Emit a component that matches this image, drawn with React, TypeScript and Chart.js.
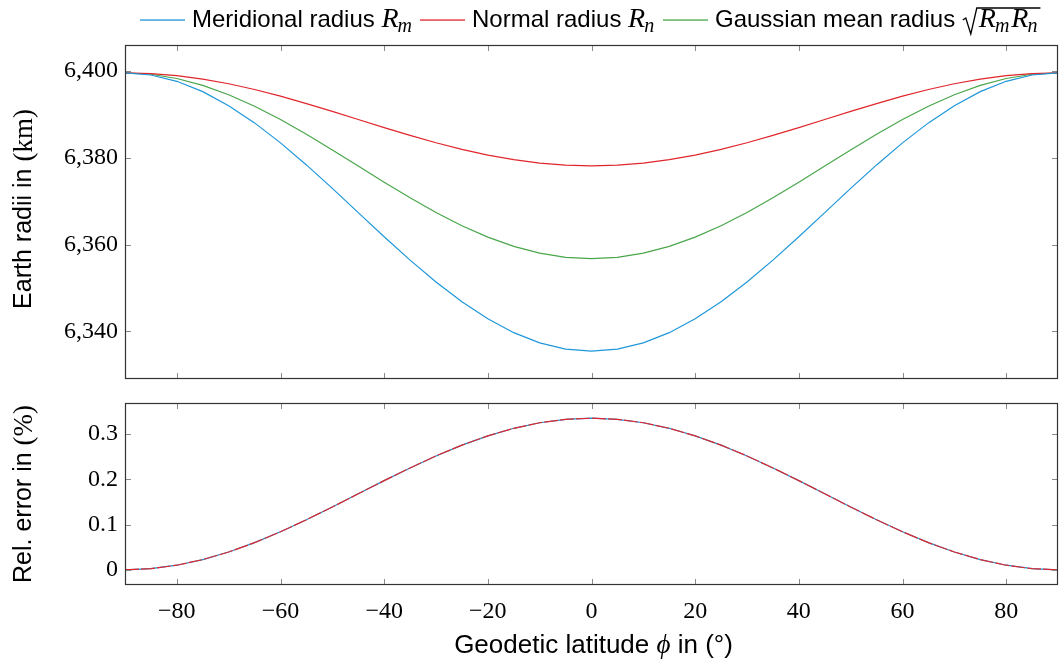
import React, { useEffect, useRef } from "react";
import { Chart, registerables } from "chart.js";
Chart.register(...registerables);

// ---------- data ----------
const latitudes = [-90, -85, -80, -75, -70, -65, -60, -55, -50, -45, -40, -35, -30, -25, -20, -15, -10, -5, 0,
  5, 10, 15, 20, 25, 30, 35, 40, 45, 50, 55, 60, 65, 70, 75, 80, 85, 90];

const meridionalRadius = [6399.594, 6399.098, 6397.639, 6395.260, 6392.030, 6388.054, 6383.452, 6378.367, 6372.955,
  6367.381, 6361.815, 6356.426, 6351.377, 6346.819, 6342.888, 6339.703, 6337.358, 6335.922, 6335.439,
  6335.922, 6337.358, 6339.703, 6342.888, 6346.819, 6351.377, 6356.426, 6361.815, 6367.381, 6372.955,
  6378.367, 6383.452, 6388.054, 6392.030, 6395.260, 6397.639, 6399.098, 6399.594];

const normalRadius = [6399.594, 6399.429, 6398.943, 6398.150, 6397.072, 6395.745, 6394.209, 6392.511, 6390.702,
  6388.838, 6386.976, 6385.172, 6383.481, 6381.954, 6380.636, 6379.568, 6378.781, 6378.299, 6378.137,
  6378.299, 6378.781, 6379.568, 6380.636, 6381.954, 6383.481, 6385.172, 6386.976, 6388.838, 6390.702,
  6392.511, 6394.209, 6395.745, 6397.072, 6398.150, 6398.943, 6399.429, 6399.594];

const gaussianRadius = [6399.594, 6399.264, 6398.291, 6396.705, 6394.551, 6391.898, 6388.828, 6385.435, 6381.822,
  6378.101, 6374.383, 6370.783, 6367.408, 6364.362, 6361.734, 6359.604, 6358.035, 6357.075, 6356.752,
  6357.075, 6358.035, 6359.604, 6361.734, 6364.362, 6367.408, 6370.783, 6374.383, 6378.101, 6381.822,
  6385.435, 6388.828, 6391.898, 6394.551, 6396.705, 6398.291, 6399.264, 6399.594];

const relErrorMeridional = [0.0000, 0.0026, 0.0102, 0.0226, 0.0394, 0.0601, 0.0841, 0.1107, 0.1389,
  0.1681, 0.1972, 0.2253, 0.2518, 0.2756, 0.2962, 0.3129, 0.3252, 0.3327, 0.3353,
  0.3327, 0.3252, 0.3129, 0.2962, 0.2756, 0.2518, 0.2253, 0.1972, 0.1681, 0.1389,
  0.1107, 0.0841, 0.0601, 0.0394, 0.0226, 0.0102, 0.0026, 0.0000];

const relErrorNormal = [0.0000, 0.0026, 0.0102, 0.0226, 0.0394, 0.0601, 0.0841, 0.1107, 0.1389,
  0.1681, 0.1972, 0.2253, 0.2518, 0.2756, 0.2962, 0.3129, 0.3252, 0.3327, 0.3353,
  0.3327, 0.3252, 0.3129, 0.2962, 0.2756, 0.2518, 0.2253, 0.1972, 0.1681, 0.1389,
  0.1107, 0.0841, 0.0601, 0.0394, 0.0226, 0.0102, 0.0026, 0.0000];

const xTicks = [-80, -60, -40, -20, 0, 20, 40, 60, 80];
const radiiTicks = [6340, 6360, 6380, 6400];
const errorTicks = [0, 0.1, 0.2, 0.3];

const BLUE = "#1f97d9";
const RED = "#e0262b";
const GREEN = "#4aa64a";
const SANS = "'Liberation Sans', Arial, sans-serif";
const SERIF = "'Liberation Serif', 'Times New Roman', serif";

const W = 1059;
const TOP_H = 395;
const BOT_H = 267;
const Y_AXIS_W = 125;

function pts(ys: number[]) {
  return latitudes.map((x, i) => ({ x, y: ys[i] }));
}
function enlarged(series: number[][]) {
  const all = series.flat();
  const lo = Math.min(...all), hi = Math.max(...all);
  const pad = (hi - lo) * 0.1;
  return { min: lo - pad, max: hi + pad };
}

// ---------- drawing helpers ----------
function drawR(ctx: CanvasRenderingContext2D, x: number, y: number, sub: string, size: number) {
  ctx.font = `italic ${size}px ${SERIF}`;
  ctx.textBaseline = "alphabetic";
  ctx.textAlign = "left";
  ctx.fillText("R", x, y);
  let w = ctx.measureText("R").width;
  ctx.font = `italic ${Math.round(size * 0.72)}px ${SERIF}`;
  ctx.fillText(sub, x + w - 1, y + size * 0.18);
  w += ctx.measureText(sub).width;
  return w;
}

const boxTicksPlugin = {
  id: "boxTicks",
  afterDraw(chart: any, _args: any, opts: any) {
    const { ctx, chartArea: a } = chart;
    ctx.save();
    ctx.strokeStyle = "#8a8a8a";
    ctx.lineWidth = 1;
    const L = 6;
    const xs = chart.scales.x;
    for (const v of opts.xTicks) {
      const px = Math.round(xs.getPixelForValue(v)) + 0.5;
      ctx.beginPath();
      ctx.moveTo(px, a.bottom); ctx.lineTo(px, a.bottom - L);
      ctx.moveTo(px, a.top); ctx.lineTo(px, a.top + L);
      ctx.stroke();
    }
    const ys = chart.scales.y;
    for (const v of opts.yTicks) {
      const py = Math.round(ys.getPixelForValue(v)) + 0.5;
      ctx.beginPath();
      ctx.moveTo(a.left, py); ctx.lineTo(a.left + L, py);
      ctx.moveTo(a.right, py); ctx.lineTo(a.right - L, py);
      ctx.stroke();
    }
    ctx.strokeStyle = "#333";
    ctx.lineWidth = 1.2;
    ctx.strokeRect(a.left + 0.5, a.top + 0.5, a.right - a.left - 1, a.bottom - a.top - 1);
    ctx.restore();
  },
};

function drawYTitle(ctx: CanvasRenderingContext2D, cx: number, cy: number, sansPart: string, serifPart: string) {
  ctx.save();
  ctx.translate(cx, cy);
  ctx.rotate(-Math.PI / 2);
  ctx.fillStyle = "#000";
  ctx.textBaseline = "middle";
  ctx.textAlign = "left";
  const sf = `25px ${SANS}`;
  const rf = `27px ${SERIF}`;
  ctx.font = sf;
  const w1 = ctx.measureText(sansPart).width;
  ctx.font = rf;
  const w2 = ctx.measureText(serifPart).width;
  let x = -(w1 + w2) / 2;
  ctx.font = sf;
  ctx.fillText(sansPart, x, 0);
  x += w1;
  ctx.font = rf;
  ctx.fillText(serifPart, x, 1);
  ctx.restore();
}

const legendItems = [
  { color: BLUE, text: "Meridional radius ", math: "m", start: 140 },
  { color: RED, text: "Normal radius ", math: "n", start: 420 },
  { color: GREEN, text: "Gaussian mean radius ", math: "sqrt", start: 663 },
];

const topDecorPlugin = {
  id: "topDecor",
  afterDraw(chart: any) {
    const ctx: CanvasRenderingContext2D = chart.ctx;
    const a = chart.chartArea;
    ctx.save();
    const y = 27;
    const lineLen = 45;
    const fs = 24;
    const rs = 28;
    for (const it of legendItems) {
      let x = it.start;
      ctx.fillStyle = it.color;
      ctx.fillRect(x, y - 7.6, lineLen, 1.3);
      x += lineLen + 7;
      ctx.fillStyle = "#000";
      ctx.font = `${fs}px ${SANS}`;
      ctx.textBaseline = "alphabetic";
      ctx.textAlign = "left";
      ctx.fillText(it.text, x, y);
      x += ctx.measureText(it.text).width;
      if (it.math === "sqrt") {
        const sx = x + 1;
        let ix = sx + 16;
        ix += drawR(ctx, ix, y, "m", rs);
        ix += 1;
        ix += drawR(ctx, ix, y, "n", rs);
        ctx.strokeStyle = "#000";
        ctx.lineWidth = 1.3;
        ctx.beginPath();
        ctx.moveTo(sx, y - 7);
        ctx.lineTo(sx + 3, y - 9);
        ctx.lineTo(sx + 8, y + 7);
        ctx.lineTo(sx + 14, y - 19);
        ctx.lineTo(ix + 2, y - 19);
        ctx.stroke();
      } else {
        drawR(ctx, x, y, it.math, rs);
      }
    }
    drawYTitle(ctx, 24, (a.top + a.bottom) / 2 - 3, "Earth radii in ", "(km)");
    ctx.restore();
  },
};

const bottomDecorPlugin = {
  id: "bottomDecor",
  afterDraw(chart: any) {
    const ctx: CanvasRenderingContext2D = chart.ctx;
    const a = chart.chartArea;
    ctx.save();
    drawYTitle(ctx, 24, (a.top + a.bottom) / 2, "Rel. error in ", "(%)");
    const parts = [
      { t: "Geodetic latitude ", f: `26px ${SANS}` },
      { t: "ϕ", f: `italic 27px ${SERIF}` },
      { t: " in (°)", f: `26px ${SANS}` },
    ];
    let total = 0;
    for (const p of parts) { ctx.font = p.f; total += ctx.measureText(p.t).width; }
    let x = (a.left + a.right) / 2 - total / 2 + 2;
    ctx.fillStyle = "#000";
    ctx.textBaseline = "alphabetic";
    ctx.textAlign = "left";
    for (const p of parts) {
      ctx.font = p.f;
      ctx.fillText(p.t, x, 258);
      x += ctx.measureText(p.t).width;
    }
    ctx.restore();
  },
};

function fmtLat(v: number) {
  return v < 0 ? "\u2212" + Math.abs(v) : String(v);
}

const zeroPad = (s: any) => {
  s.paddingTop = 0;
  s.paddingBottom = 0;
  s.paddingLeft = 0;
  s.paddingRight = 0;
};

export default function App() {
  const topRef = useRef<HTMLCanvasElement>(null);
  const botRef = useRef<HTMLCanvasElement>(null);

  useEffect(() => {
    const topRange = enlarged([meridionalRadius, normalRadius, gaussianRadius]);
    const errRange = enlarged([relErrorMeridional, relErrorNormal]);
    const lineDs = (label: string, data: number[], color: string, extra: any = {}) => ({
      label,
      data: pts(data),
      borderColor: color,
      backgroundColor: color,
      borderWidth: 1.2,
      pointRadius: 0,
      tension: 0,
      fill: false,
      ...extra,
    });

    const topChart = new Chart(topRef.current!, {
      type: "line",
      data: {
        datasets: [
          lineDs("Meridional radius Rm", meridionalRadius, BLUE),
          lineDs("Normal radius Rn", normalRadius, RED),
          lineDs("Gaussian mean radius √(RmRn)", gaussianRadius, GREEN),
        ],
      },
      options: {
        animation: false,
        responsive: false,
        layout: { padding: { top: 45, right: 1, bottom: 16, left: 0 } },
        plugins: {
          legend: { display: false },
          tooltip: { enabled: false },
          boxTicks: { xTicks, yTicks: radiiTicks },
        } as any,
        scales: {
          x: {
            type: "linear",
            min: -90,
            max: 90,
            grid: { display: false, drawTicks: false },
            border: { display: false },
            ticks: { display: false },
            afterFit: (s: any) => { s.height = 0; zeroPad(s); },
          },
          y: {
            type: "linear",
            min: topRange.min,
            max: topRange.max,
            grid: { display: false, drawTicks: false },
            border: { display: false },
            afterBuildTicks: (s: any) => { s.ticks = radiiTicks.map((v) => ({ value: v })); },
            ticks: {
              padding: 7,
              color: "#000",
              font: { family: SERIF, size: 24 },
              callback: (v: any) => Number(v).toLocaleString("en-US"),
            },
            afterFit: (s: any) => { s.width = Y_AXIS_W; zeroPad(s); },
          },
        },
      } as any,
      plugins: [boxTicksPlugin, topDecorPlugin],
    });

    const botChart = new Chart(botRef.current!, {
      type: "line",
      data: {
        datasets: [
          lineDs("Rel. error Rn", relErrorNormal, RED, { borderDash: [14, 2] }),
          lineDs("Rel. error Rm", relErrorMeridional, BLUE),
        ],
      },
      options: {
        animation: false,
        responsive: false,
        layout: { padding: { top: 8, right: 1, bottom: 0, left: 0 } },
        plugins: {
          legend: { display: false },
          tooltip: { enabled: false },
          boxTicks: { xTicks, yTicks: errorTicks },
        } as any,
        scales: {
          x: {
            type: "linear",
            min: -90,
            max: 90,
            grid: { display: false, drawTicks: false },
            border: { display: false },
            afterBuildTicks: (s: any) => { s.ticks = xTicks.map((v) => ({ value: v })); },
            ticks: {
              padding: 12,
              maxRotation: 0,
              color: "#000",
              font: { family: SERIF, size: 24 },
              callback: (v: any) => fmtLat(Number(v)),
            },
            afterFit: (s: any) => { s.height = 77; zeroPad(s); },
          },
          y: {
            type: "linear",
            min: errRange.min,
            max: errRange.max,
            grid: { display: false, drawTicks: false },
            border: { display: false },
            afterBuildTicks: (s: any) => { s.ticks = errorTicks.map((v) => ({ value: v })); },
            ticks: {
              padding: 7,
              color: "#000",
              font: { family: SERIF, size: 24 },
              callback: (v: any) => (Number(v) === 0 ? "0" : Number(v).toFixed(1)),
            },
            afterFit: (s: any) => { s.width = Y_AXIS_W; zeroPad(s); },
          },
        },
      } as any,
      plugins: [boxTicksPlugin, bottomDecorPlugin],
    });

    return () => {
      topChart.destroy();
      botChart.destroy();
    };
  }, []);

  return (
    <div style={{ position: "absolute", left: 0, top: 0, width: W, height: TOP_H + BOT_H, background: "#fff" }}>
      <canvas ref={topRef} width={W} height={TOP_H} style={{ display: "block" }} />
      <canvas ref={botRef} width={W} height={BOT_H} style={{ display: "block" }} />
    </div>
  );
}
